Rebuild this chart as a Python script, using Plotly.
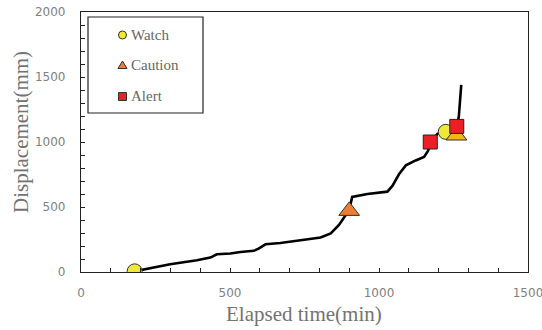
import plotly.graph_objects as go

# Displacement record
elapsed_min = [180, 209, 243, 299, 389, 434, 456, 468, 501, 535, 580, 596, 619, 669,
               692, 759, 804, 838, 865, 888, 900, 910, 961, 1028, 1045, 1067, 1090,
               1123, 1151, 1165, 1172, 1196, 1224, 1245, 1262, 1268, 1272, 1276]
displacement_mm = [5, 18, 34, 59, 90, 111, 136, 138, 142, 154, 163, 180, 213, 223,
                   231, 249, 265, 296, 360, 437, 475, 578, 600, 618, 662, 752, 820,
                   858, 885, 932, 1000, 1062, 1078, 1095, 1120, 1200, 1320, 1440]

# Warning levels
watch_t = [180, 1224]
watch_d = [5, 1078]
caution_t = [900, 1260]
caution_d = [470, 1050]
alert_t = [1172, 1261]
alert_d = [1000, 1120]

legend_labels = ["Watch", "Caution", "Alert"]

W, H = 542, 330
L, R, T, B = 81, 14, 12, 58
pw, ph = W - L - R, H - T - B


def px_x(x):
    return (x - L) / pw


def px_y(y):
    return (H - B - y) / ph


fig = go.Figure()
fig.add_trace(go.Scatter(x=elapsed_min, y=displacement_mm, mode="lines",
                         line=dict(color="black", width=2.6), showlegend=False))
fig.add_trace(go.Scatter(x=watch_t, y=watch_d, mode="markers", showlegend=False,
                         marker=dict(symbol="circle", size=15, color="#EEE83A",
                                     line=dict(color="#333333", width=1))))
fig.add_trace(go.Scatter(x=caution_t, y=caution_d, mode="markers", showlegend=False,
                         marker=dict(symbol="triangle-up", size=18,
                                     color=["#ED7D31", "#F7B512"],
                                     line=dict(color="#333333", width=1))))
fig.add_trace(go.Scatter(x=alert_t, y=alert_d, mode="markers", showlegend=False,
                         marker=dict(symbol="square", size=14, color="#EC2024",
                                     line=dict(color="#222222", width=1))))

shapes = [
    # legend frame
    dict(type="rect", xref="paper", yref="paper",
         x0=px_x(88), x1=px_x(203), y0=px_y(113), y1=px_y(17),
         line=dict(color="#222222", width=1.2), fillcolor="white", layer="above"),
]
legend_rows = [35, 65, 96.5]
legend_marks = [
    dict(type="circle", x0=-4, x1=4, y0=-4, y1=4, fillcolor="#EEE83A"),
    dict(type="path", path="M-4.5,-3.5 L4.5,-3.5 L0,4 Z", fillcolor="#ED7D31"),
    dict(type="rect", x0=-4, x1=4, y0=-4, y1=4, fillcolor="#EC2024"),
]
for yrow, m in zip(legend_rows, legend_marks):
    s = dict(m)
    s.update(xref="paper", yref="paper", xsizemode="pixel", ysizemode="pixel",
             xanchor=px_x(122.5), yanchor=px_y(yrow),
             line=dict(color="#333333", width=1), layer="above")
    shapes.append(s)

annotations = [
    dict(text=lab, xref="paper", yref="paper", x=px_x(129), y=px_y(yrow),
         xanchor="left", yanchor="middle", showarrow=False,
         font=dict(family="Liberation Serif", size=15, color="#666666"))
    for lab, yrow in zip(legend_labels, legend_rows)
]
annotations += [
    dict(text="Elapsed time(min)", xref="paper", yref="paper", x=px_x(304), y=px_y(314),
         xanchor="center", yanchor="middle", showarrow=False,
         font=dict(family="Liberation Serif", size=21, color="#737373")),
    dict(text="Displacement(mm)", xref="paper", yref="paper", x=px_x(21), y=px_y(132),
         xanchor="center", yanchor="middle", showarrow=False, textangle=-90,
         font=dict(family="Liberation Serif", size=21, color="#737373")),
]

axis_common = dict(
    showline=True, linecolor="#222222", linewidth=1.3, mirror=True,
    showgrid=False, zeroline=False,
    ticks="inside", ticklen=4, tickwidth=1, tickcolor="#222222",
    tickfont=dict(family="DejaVu Sans", size=12, color="#7F7F7F"),
    ticklabeloverflow="allow",
)

fig.update_layout(
    width=W, height=H,
    margin=dict(l=L, r=R, t=T, b=B, autoexpand=False),
    paper_bgcolor="white", plot_bgcolor="white",
    xaxis=dict(range=[0, 1500], dtick=500, tick0=0, ticklabelstandoff=9,
               minor=dict(dtick=100, ticks="inside", ticklen=4, tickcolor="#222222"),
               **axis_common),
    yaxis=dict(range=[0, 2000], dtick=500, tick0=0, ticklabelstandoff=12,
               minor=dict(dtick=100, ticks="inside", ticklen=4, tickcolor="#222222"),
               **axis_common),
    shapes=shapes,
    annotations=annotations,
    showlegend=False,
)

fig.write_html("out.html")
